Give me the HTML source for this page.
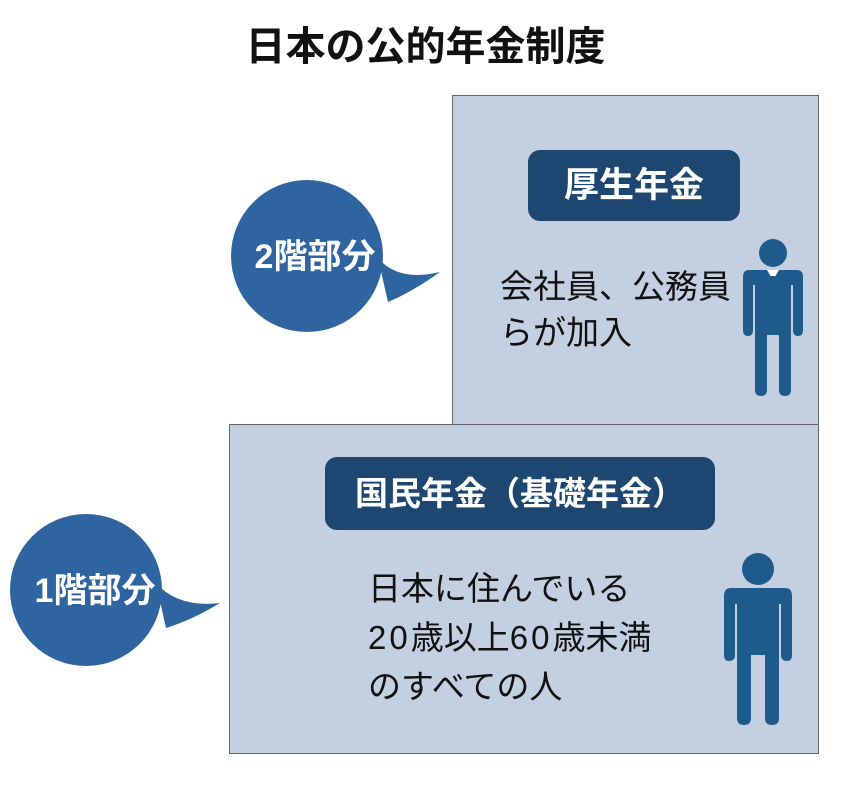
<!DOCTYPE html>
<html><head><meta charset="utf-8"><style>
html,body{margin:0;padding:0;background:#fff;}
body{width:851px;height:787px;position:relative;overflow:hidden;font-family:"Liberation Sans","Noto Sans CJK JP",sans-serif;}
.abs{position:absolute;}
.box{position:absolute;background:#c4d0e1;border:1px solid #666;}
.pill{position:absolute;background:#1d4670;border-radius:12px;color:#fff;font-weight:bold;text-align:center;}
.txt{position:absolute;color:#111;white-space:nowrap;}
.d{letter-spacing:3px;}
</style></head><body>
<div class="abs" style="left:0;top:22px;width:851px;text-align:center;font-size:40px;line-height:50px;font-weight:bold;color:#111;">日本の公的年金制度</div>

<div class="box" style="left:452px;top:95px;width:365px;height:330px;"></div>
<div class="box" style="left:229px;top:424px;width:588px;height:328px;"></div>

<div class="pill" style="left:528px;top:150px;width:212px;height:71px;line-height:71px;font-size:35px;">厚生年金</div>
<div class="txt" style="left:500px;top:264px;font-size:33px;line-height:46px;">会社員、公務員<br>らが加入</div>

<div class="pill" style="left:325px;top:457px;width:390px;height:73px;line-height:73px;font-size:33px;">国民年金（基礎年金）</div>
<div class="txt" style="left:368px;top:564px;font-size:33px;line-height:49px;">日本に住んでいる<br><span class="d">20</span>歳以上<span class="d">60</span>歳未満<br>のすべての人</div>

<svg class="abs" style="left:0;top:0" width="851" height="787">
 <path d="M378,258 Q398,282 440,272 Q412,292 388,302 Z" fill="#2e64a0"/>
 <circle cx="307" cy="256" r="76" fill="#2e64a0"/>
 <text x="315" y="268" text-anchor="middle" fill="#fff" font-size="34" font-weight="bold" font-family="Liberation Sans, Noto Sans CJK JP, sans-serif">2階部分</text>
 <path d="M156,583 Q178,608 220,603 Q192,620 166,628 Z" fill="#2e64a0"/>
 <circle cx="86" cy="590" r="76" fill="#2e64a0"/>
 <text x="95" y="602" text-anchor="middle" fill="#fff" font-size="34" font-weight="bold" font-family="Liberation Sans, Noto Sans CJK JP, sans-serif">1階部分</text>
 <g fill="#1e5a8c">
  <circle cx="773" cy="253" r="14"/>
  <path d="M749,270 H797 Q803,270 803,277 V330 Q803,336 798,336 Q793,336 793,330 V285 H791 V390 Q791,396 785,396 Q779,396 779,390 V335 H767 V390 Q767,396 761,396 Q755,396 755,390 V285 H753 V330 Q753,336 748,336 Q743,336 743,330 V277 Q743,270 749,270 Z"/>
 </g>
 <path d="M767,270 L773,280 L779,270 Z" fill="#fff"/>
 <path d="M771,276 L775,276 L776,290 L773,294 L770,290 Z" fill="#1e5a8c"/>
 <g fill="#1e5a8c">
  <circle cx="758" cy="569" r="16"/>
  <path d="M731,588 H785 Q792,588 792,596 V655 Q792,661 787,661 Q781,661 781,655 V604 H779 V718 Q779,725 772,725 Q765,725 765,718 V655 H751 V718 Q751,725 744,725 Q737,725 737,718 V604 H735 V655 Q735,661 729,661 Q724,661 724,655 V596 Q724,588 731,588 Z"/>
 </g>
</svg>
</body></html>
